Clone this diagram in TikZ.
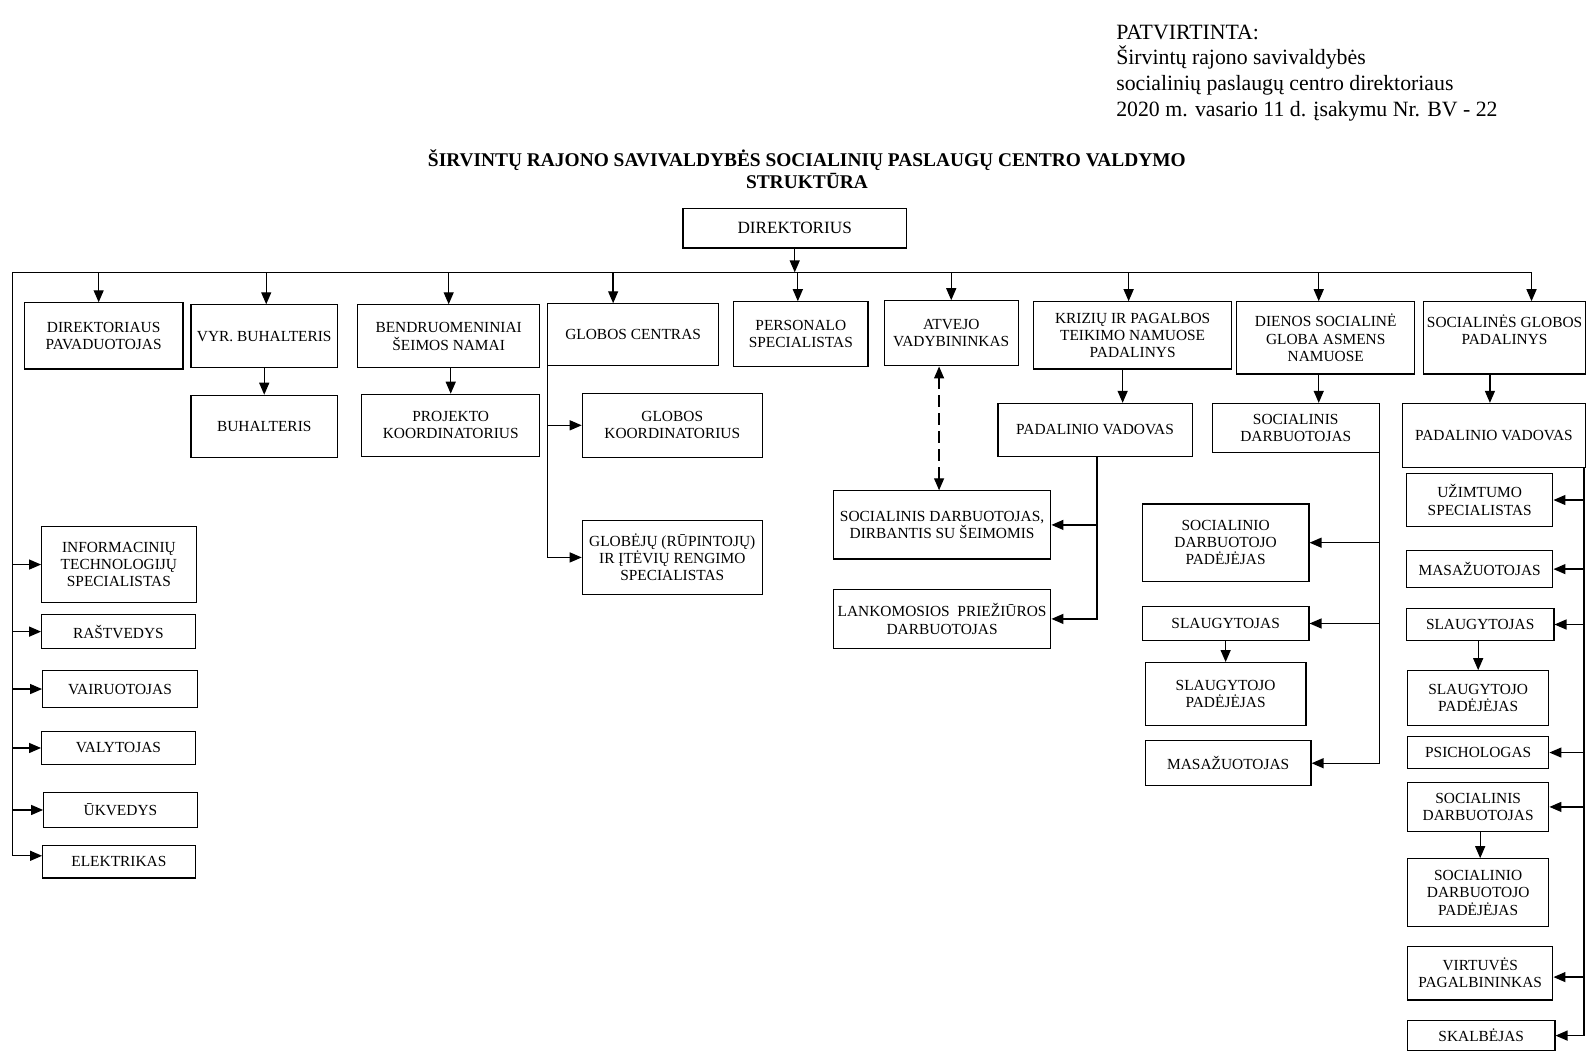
\documentclass[tikz,border=0pt]{standalone}
\usepackage{fontspec}
\setmainfont{Liberation Serif}
\usetikzlibrary{arrows.meta,calc}
\tikzset{
 box/.style={draw, line width=0.6pt, align=center, inner sep=0pt, font=\fontsize{7.7}{8.6}\selectfont},
 arr/.style={line width=0.65pt, -{Triangle[length=6pt,width=5pt]}},
 ln/.style={line width=0.65pt},
 dasharr/.style={line width=0.65pt, dash pattern=on 6pt off 3pt, {Triangle[length=6pt,width=5pt]}-{Triangle[length=6pt,width=5pt]}},
}
\newcommand\bx[6]{\node[box, minimum width={(#4-#2)*0.5081pt}, minimum height={(#5-#3)*0.5081pt}] (#1) at ({(#2+#4)/2},{(#3+#5)/2}) {#6};}
\begin{document}
\begin{tikzpicture}[x=0.5081pt,y=-0.5081pt]
\useasboundingbox (0,0) rectangle (1567.5,1043);
\node[anchor=north west, align=left, font=\fontsize{10.9}{12.9}\selectfont, inner sep=0pt] (hdr) at (1098,24) {PATVIRTINTA:\\Širvintų rajono savivaldybės\\socialinių paslaugų centro direktoriaus\\2020 m. vasario 11 d. įsakymu Nr. BV - 22};
\node[font=\bfseries\fontsize{9.7}{11}\selectfont, align=center, inner sep=0pt] (title) at (794,166) {ŠIRVINTŲ RAJONO SAVIVALDYBĖS SOCIALINIŲ PASLAUGŲ CENTRO VALDYMO\\STRUKTŪRA};

\bx{dir}{672}{205}{892}{244}{\fontsize{8.6}{9.6}\selectfont DIREKTORIUS}
\bx{dp}{24}{298}{180}{363}{DIREKTORIAUS\\PAVADUOTOJAS}
\bx{vb}{188}{300}{332}{362}{VYR. BUHALTERIS}
\bx{bsn}{352}{300}{531}{362}{BENDRUOMENINIAI\\ŠEIMOS NAMAI}
\bx{gc}{539}{299}{707}{360}{GLOBOS CENTRAS}
\bx{ps}{722}{297}{854}{361}{PERSONALO\\SPECIALISTAS}
\bx{av}{870}{296}{1002}{360}{ATVEJO\\VADYBININKAS}
\bx{kp}{1017}{297}{1212}{363}{KRIZIŲ IR PAGALBOS\\TEIKIMO NAMUOSE\\PADALINYS}
\bx{ds}{1217}{297}{1392}{368}{DIENOS SOCIALINĖ\\GLOBA ASMENS\\NAMUOSE}
\bx{sg}{1401}{297}{1560}{368}{SOCIALINĖS GLOBOS\\PADALINYS\\\mbox{}}

\bx{bu}{188}{389}{332}{450}{BUHALTERIS}
\bx{pk}{356}{388}{531}{449}{PROJEKTO\\KOORDINATORIUS}
\bx{gk}{573}{387}{750}{450}{GLOBOS\\KOORDINATORIUS}
\bx{gj}{573}{512}{750}{585}{GLOBĖJŲ (RŪPINTOJŲ)\\IR ĮTĖVIŲ RENGIMO\\SPECIALISTAS}
\bx{sds}{820}{483}{1034}{550}{SOCIALINIS DARBUOTOJAS,\\DIRBANTIS SU ŠEIMOMIS}
\bx{lp}{820}{580}{1034}{638}{LANKOMOSIOS\ \ PRIEŽIŪROS\\DARBUOTOJAS}
\bx{pv1}{982}{397}{1173}{449}{PADALINIO VADOVAS}
\bx{sd2}{1193}{397}{1357}{445}{SOCIALINIS\\DARBUOTOJAS}
\bx{sdp1}{1124}{496}{1288}{572}{SOCIALINIO\\DARBUOTOJO\\PADĖJĖJAS}
\bx{sl1}{1124}{597}{1288}{630}{SLAUGYTOJAS}
\bx{slp1}{1127}{652}{1285}{714}{SLAUGYTOJO\\PADĖJĖJAS}
\bx{ma1}{1127}{729}{1290}{773}{MASAŽUOTOJAS}
\bx{pv2}{1380}{397}{1560}{460}{PADALINIO VADOVAS}
\bx{uz}{1384}{466}{1528}{518}{UŽIMTUMO\\SPECIALISTAS}
\bx{ma2}{1384}{542}{1528}{578}{MASAŽUOTOJAS}
\bx{sl2}{1384}{599}{1529}{630}{SLAUGYTOJAS}
\bx{slp2}{1385}{660}{1524}{714}{SLAUGYTOJO\\PADĖJĖJAS}
\bx{psi}{1385}{725}{1524}{756}{PSICHOLOGAS}
\bx{sd3}{1385}{770}{1524}{818}{SOCIALINIS\\DARBUOTOJAS}
\bx{sdp2}{1385}{845}{1524}{912}{SOCIALINIO\\DARBUOTOJO\\PADĖJĖJAS}
\bx{vp}{1385}{931}{1528}{984}{VIRTUVĖS\\PAGALBININKAS}
\bx{sk}{1385}{1004}{1530}{1034}{SKALBĖJAS}

\bx{it}{41}{518}{193}{593}{INFORMACINIŲ\\TECHNOLOGIJŲ\\SPECIALISTAS}
\bx{ra}{41}{605}{192}{638}{RAŠTVEDYS}
\bx{vai}{42}{660}{194}{696}{VAIRUOTOJAS}
\bx{val}{41}{720}{192}{752}{VALYTOJAS}
\bx{uk}{43}{780}{194}{814}{ŪKVEDYS}
\bx{el}{42}{832}{192}{864}{ELEKTRIKAS}

\coordinate (busL) at (12,268);
\coordinate (busR) at (1507,268);
\draw[arr] (dir.south) -- (dir.south |- busL);
\draw[ln] (busL) -- (busR);
\draw[arr] ([xshift=-2.5pt]dp.north |- busL) -- ([xshift=-2.5pt]dp.north);
\draw[arr] ([xshift=1pt]vb.north |- busL) -- ([xshift=1pt]vb.north);
\draw[arr] (bsn.north |- busL) -- (bsn.north);
\draw[arr] ([xshift=-10pt]gc.north |- busL) -- ([xshift=-10pt]gc.north);
\draw[arr] ([xshift=-1.5pt]ps.north |- busL) -- ([xshift=-1.5pt]ps.north);
\draw[arr] (av.north |- busL) -- (av.north);
\draw[arr] ([xshift=-2pt]kp.north |- busL) -- ([xshift=-2pt]kp.north);
\draw[arr] ([xshift=-3.5pt]ds.north |- busL) -- ([xshift=-3.5pt]ds.north);
\draw[arr] (busR) -- (busR |- sg.north);

\draw[arr] (bu.north |- vb.south) -- (bu.north);
\draw[arr] (pk.north |- bsn.south) -- (pk.north);
\draw[arr] (gc.south west) |- (gj.west);
\draw[arr] (gc.south west |- gk.west) -- (gk.west);
\draw[dasharr] ([xshift=-1.5pt]sds.north) -- ([xshift=-1.5pt]sds.north |- av.south);

\draw[arr] ([xshift=-5pt]kp.south) -- ([xshift=-5pt]kp.south |- pv1.north);
\draw[arr] ([xshift=1pt]pv1.south) |- (lp.east);
\draw[arr] ([xshift=1pt]pv1.south |- sds.east) -- (sds.east);

\draw[arr] ([xshift=-3.5pt]ds.south) -- ([xshift=-3.5pt]ds.south |- sd2.north);
\draw[arr] (sd2.south east) |- (ma1.east);
\draw[arr] (sd2.south east |- sdp1.east) -- (sdp1.east);
\draw[arr] (sd2.south east |- sl1.east) -- (sl1.east);
\draw[arr] (sl1.south) -- (sl1.south |- slp1.north);

\draw[arr] ([xshift=-2pt]pv2.north |- sg.south) -- ([xshift=-2pt]pv2.north);
\coordinate (vr) at ([xshift=-1pt]pv2.south east);
\draw[arr] (vr) |- (sk.east);
\draw[arr] (vr |- uz.east) -- (uz.east);
\draw[arr] (vr |- ma2.east) -- (ma2.east);
\draw[arr] (vr |- sl2.east) -- (sl2.east);
\draw[arr] (vr |- psi.east) -- (psi.east);
\draw[arr] (vr |- sd3.east) -- (sd3.east);
\draw[arr] ([yshift=-2pt]vr |- vp.east) -- ([yshift=-2pt]vp.east);
\draw[arr] (slp2.north |- sl2.south) -- (slp2.north);
\draw[arr] ([xshift=1pt]sdp2.north |- sd3.south) -- ([xshift=1pt]sdp2.north);

\draw[arr] (busL) |- ([yshift=3pt]el.west);
\draw[arr] (busL |- it.west) -- (it.west);
\draw[arr] (busL |- ra.west) -- (ra.west);
\draw[arr] (busL |- vai.west) -- (vai.west);
\draw[arr] (busL |- val.west) -- (val.west);
\draw[arr] (busL |- uk.west) -- (uk.west);
\end{tikzpicture}
\end{document}
